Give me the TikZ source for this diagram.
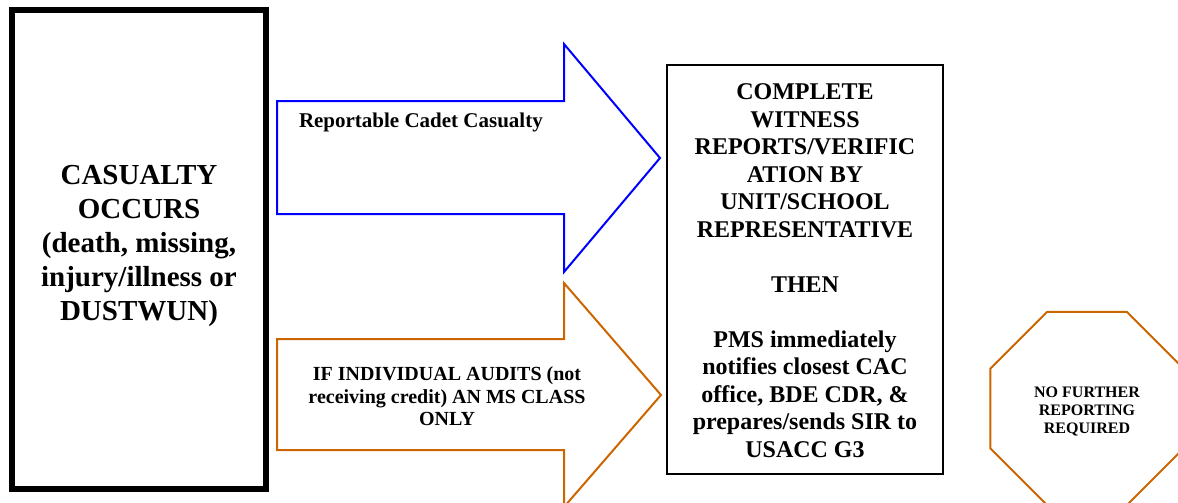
\documentclass[tikz,border=0pt]{standalone}
\usepackage{fontspec}
\setmainfont{Liberation Serif}
\usetikzlibrary{shapes.geometric}
\definecolor{arrowblue}{RGB}{0,0,255}
\definecolor{arroworange}{RGB}{204,102,0}
\begin{document}
\begin{tikzpicture}[x=1pt,y=-1pt,
  txt/.style={inner sep=0pt, outer sep=0pt, align=center, text=black},
  bigarrow/.style={line width=2pt, line join=miter, fill=white}]
\clip (0,0) rectangle (1178,503);
\fill[white] (0,0) rectangle (1178,503);

% left box
\node[draw=black, line width=6pt, minimum width=254pt, minimum height=479pt,
      inner sep=0pt, outer sep=0pt] (casualty) at (139,249.5) {};
\node[txt, font=\fontsize{29}{34}\selectfont\bfseries] (casualtytext) at (139,246)
  {CASUALTY\\OCCURS\\(death, missing,\\injury/illness or\\DUSTWUN)};

% blue arrow
\draw[bigarrow, draw=arrowblue] (277,101) -- (564,101) -- (564,44) -- (660,158)
  -- (564,272) -- (564,214) -- (277,214) -- cycle;
\node[txt, anchor=base west, font=\fontsize{21}{24}\selectfont\bfseries]
  (reportable) at (299,127.3) {Reportable Cadet Casualty};

% orange arrow
\draw[bigarrow, draw=arroworange] (277,339) -- (564,339) -- (564,283) -- (661,395)
  -- (564,507) -- (564,450) -- (277,450) -- cycle;
\node[txt, font=\fontsize{20}{22.5}\selectfont\bfseries] (audits) at (447,396.5)
  {IF INDIVIDUAL AUDITS (not\\receiving credit) AN MS CLASS\\ONLY};

% middle box
\node[draw=black, line width=2.3pt, minimum width=276pt, minimum height=409pt,
      inner sep=0pt, outer sep=0pt] (complete) at (805,269.5) {};
\node[txt, font=\fontsize{24}{27.5}\selectfont\bfseries] (completetext) at (805,270.5)
  {COMPLETE\\WITNESS\\REPORTS/VERIFIC\\ATION BY\\UNIT/SCHOOL\\REPRESENTATIVE\\[27.5pt]
   THEN\\[27.5pt]
   PMS immediately\\notifies closest CAC\\office, BDE CDR, \&\\prepares/sends SIR to\\USACC G3};

% octagon
\node[regular polygon, regular polygon sides=8, minimum size=209pt, inner sep=0pt,
      outer sep=0pt, draw=arroworange, line width=2pt] (stop) at (1087,408.5) {};
\node[txt, font=\fontsize{16}{18}\selectfont\bfseries] (stoptext) at (1087,411.5)
  {NO FURTHER\\REPORTING\\REQUIRED};
\end{tikzpicture}
\end{document}
